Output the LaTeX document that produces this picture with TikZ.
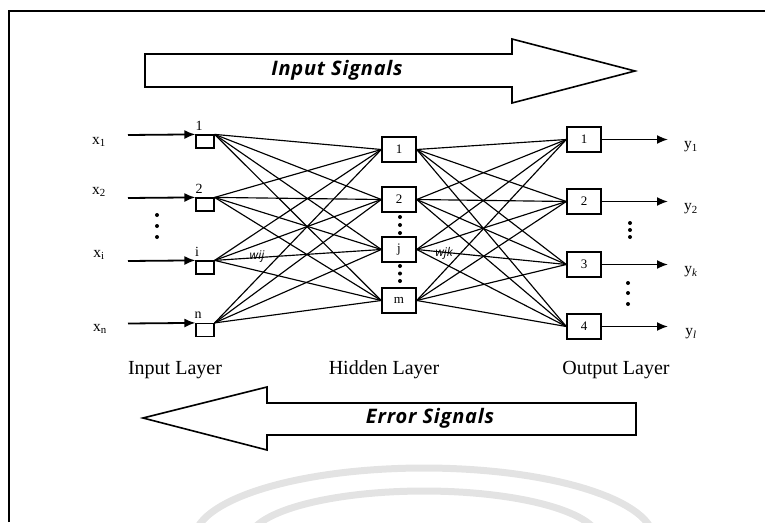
\documentclass[tikz,border=0pt]{standalone}
\usepackage{fontspec}
\setmainfont{Liberation Serif}
\newfontfamily\sigfont[LetterSpace=4]{Open Sans}
\newfontfamily\wfont{Open Sans}
\usetikzlibrary{arrows.meta}
\begin{document}
\begin{tikzpicture}[x=1pt,y=-1pt,
  inbox/.style={draw,line width=1.2pt,minimum width=18pt,minimum height=13pt,inner sep=0pt},
  hbox/.style={draw,line width=1.4pt,minimum width=34pt,minimum height=25pt,inner sep=0pt,font=\fontsize{13}{13}\selectfont},
  link/.style={line width=1.15pt},
  sig/.style={-{Latex[length=11pt,width=9pt]},line width=1.8pt},
  bigarrow/.style={draw,line width=1.6pt,fill=white},
  sigtext/.style={font=\sigfont\bfseries\itshape\fontsize{20}{20}\selectfont,inner sep=0pt},
  lbl/.style={font=\fontsize{14}{14}\selectfont,inner sep=0pt},
  xylbl/.style={font=\fontsize{15.5}{15.5}\selectfont,inner sep=0pt},
  laylbl/.style={font=\fontsize{20}{20}\selectfont,inner sep=0pt},
  wlbl/.style={font=\wfont\itshape\fontsize{12}{12}\selectfont,inner sep=0pt},
  vdot/.style={fill,circle,inner sep=0pt,minimum size=4pt}
]
\useasboundingbox (0,0) rectangle (765,522);
% watermark arcs
\begin{scope}
\clip (0,0) rectangle (765,522);
\draw[gray!22,line width=7pt] plot[domain=5:175,samples=60] ({424+230*cos(\x)},{540-72*sin(\x)});
\draw[gray!22,line width=7pt] plot[domain=5:175,samples=60] ({424+175*cos(\x)},{540-49*sin(\x)});
\end{scope}
% frame
\draw[line width=2pt] (9,522) -- (9,11) -- (765,11);
% big arrows
\draw[bigarrow] (145,54) -- (512,54) -- (512,39) -- (635,71) -- (512,103) -- (512,87) -- (145,87) -- cycle;
\node[sigtext] (insig) at (337,70) {Input Signals};
\draw[bigarrow] (636,403) -- (267,403) -- (267,387) -- (143,418) -- (267,450) -- (267,435) -- (636,435) -- cycle;
\node[sigtext] (errsig) at (430,418) {Error Signals};
% input layer
\node[inbox] (in1) at (205,141.5) {};
\node[inbox] (in2) at (205,204.5) {};
\node[inbox] (ini) at (205,267.5) {};
\node[inbox] (inn) at (205,330) {};
\node[lbl] (n1) at (199,126) {1};
\node[lbl] (n2) at (199,189) {2};
\node[lbl] (ni) at (197,252) {i};
\node[lbl] (nn) at (198,315) {n};
\coordinate (s1) at (128,135);
\coordinate (s2) at (128,198);
\coordinate (si) at (128,261);
\coordinate (sn) at (128,323.5);
\draw[sig] (s1) -- (in1.north west);
\draw[sig] (s2) -- (in2.north west);
\draw[sig] (si) -- (ini.north west);
\draw[sig] (sn) -- (inn.north west);
\node[xylbl] (x1) at (99,142) {x\textsubscript{1}};
\node[xylbl] (x2) at (99,192) {x\textsubscript{2}};
\node[xylbl] (xi) at (99,255) {x\textsubscript{i}};
\node[xylbl] (xn) at (100,329) {x\textsubscript{n}};
\node[vdot] (d1) at (157,215) {};
\node[vdot] (d2) at (157,226) {};
\node[vdot] (d3) at (157,237) {};
% hidden layer
\node[hbox] (h1) at (399,149.5) {1};
\node[hbox] (h2) at (399,199.5) {2};
\node[hbox] (hj) at (399,249.5) {j};
\node[hbox] (hm) at (399,300.5) {m};
\node[vdot] (e1) at (400,217) {};
\node[vdot] (e2) at (400,225) {};
\node[vdot] (e3) at (400,233) {};
\node[vdot] (e4) at (400,266) {};
\node[vdot] (e5) at (400,273.5) {};
\node[vdot] (e6) at (400,281) {};
% output layer
\node[hbox] (o1) at (584,139.5) {1};
\node[hbox] (o2) at (584,201.5) {2};
\node[hbox] (o3) at (584,264.5) {3};
\node[hbox] (o4) at (584,326.5) {4};
\coordinate (t1) at (668,139.5);
\coordinate (t2) at (668,201.5);
\coordinate (t3) at (668,264.5);
\coordinate (t4) at (668,326.5);
\draw[sig] (o1.east) -- (t1);
\draw[sig] (o2.east) -- (t2);
\draw[sig] (o3.east) -- (t3);
\draw[sig] (o4.east) -- (t4);
\node[xylbl] (y1) at (691,147) {y\textsubscript{1}};
\node[xylbl] (y2) at (691,209) {y\textsubscript{2}};
\node[xylbl] (yk) at (691,272) {y\textsubscript{\textit{k}}};
\node[xylbl] (yl) at (691,334) {y\textsubscript{\textit{l}}};
\node[vdot] (f1) at (630,223) {};
\node[vdot] (f2) at (630,230) {};
\node[vdot] (f3) at (630,237) {};
\node[vdot] (f4) at (628,283) {};
\node[vdot] (f5) at (628,293) {};
\node[vdot] (f6) at (628,304) {};
% connections
\foreach \i in {in1,in2,ini,inn}
  \foreach \h in {h1,h2,hj,hm}
    \draw[link] (\i.north east) -- (\h.west);
\foreach \h in {h1,h2,hj,hm}
  \foreach \o in {o1,o2,o3,o4}
    \draw[link] (\h.east) -- (\o.west);
\node[wlbl] (wij) at (257,257) {wij};
\node[wlbl] (wjk) at (444,253) {wjk};
% layer labels
\node[laylbl] (il) at (175,370) {Input Layer};
\node[laylbl] (hl) at (384,370) {Hidden Layer};
\node[laylbl] (ol) at (616,370) {Output Layer};
\end{tikzpicture}
\end{document}
